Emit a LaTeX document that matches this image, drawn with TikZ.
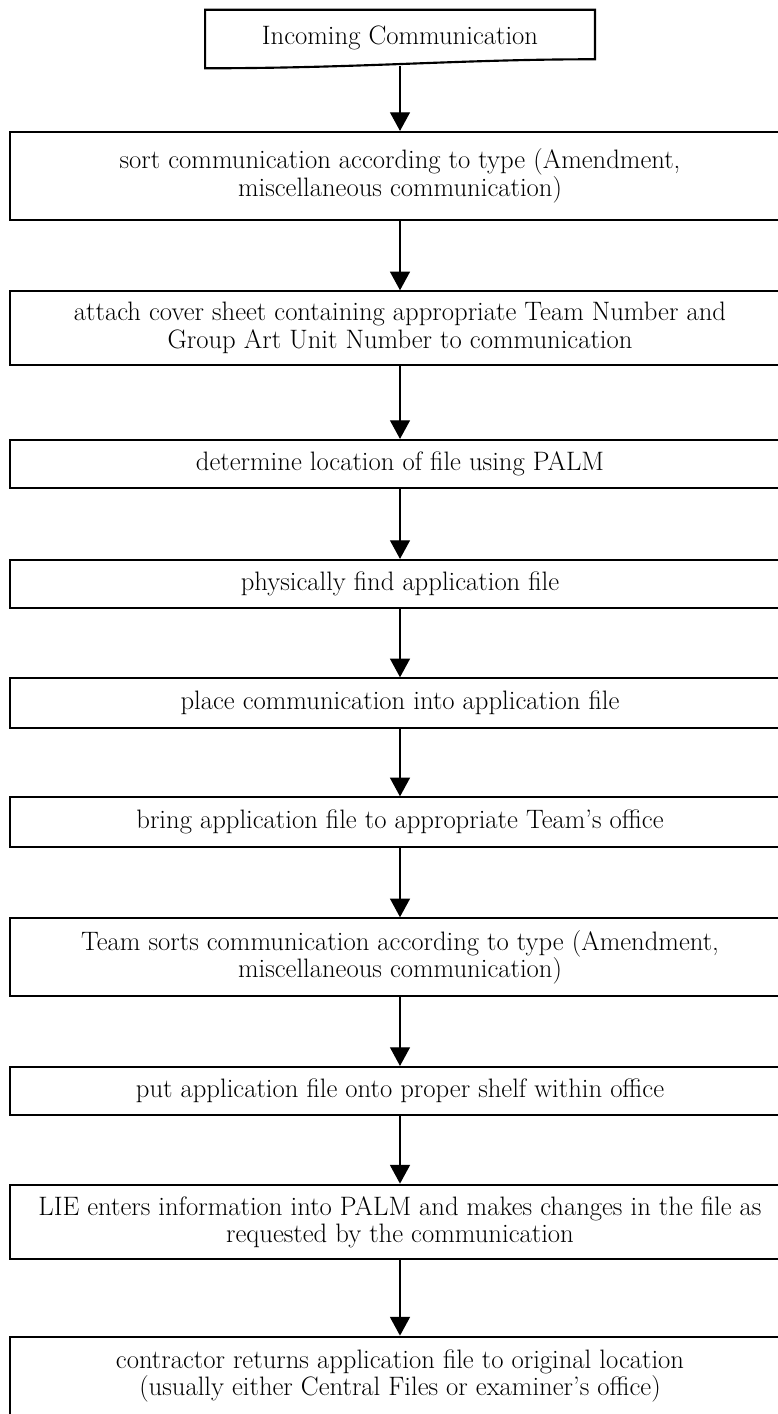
\documentclass[tikz,border=0pt]{standalone}
\usepackage{tikz}
\usetikzlibrary{arrows.meta,calc}
\tikzset{
  >={Triangle[length=14pt,width=15pt]},
  txt/.style   ={font=\fontsize{20}{20.5}\selectfont},
  box/.style   ={draw=black,line width=1.6pt,txt,align=center,inner sep=0pt,
                 minimum width=585pt},
  docbox/.style={txt,align=center,inner sep=0pt,minimum width=292pt,minimum height=42pt},
  ar/.style    ={->,line width=1pt},
}
\begin{document}
\begin{tikzpicture}[x=0.75pt,y=-0.75pt]
\clip (0,0) rectangle (778,1414);
% start: the incoming document
\node[docbox] (inc) at (400,38) {Incoming Communication};
\draw[line width=1.6pt] (inc.north west) -- (inc.north east) -- ($(inc.south east)+(0,-7)$)
   .. controls ($(inc.south)+(60,-7)$) and ($(inc.south)+(-40,2)$) .. ($(inc.south west)+(0,2)$) -- cycle;
% the steps
\node[box,minimum height=66pt] (sortc) at (400,176) {sort communication according to type (Amendment,\\ miscellaneous communication)};
\node[box,minimum height=55pt] (attach) at (400,328) {attach cover sheet containing appropriate Team Number and\\ Group Art Unit Number to communication};
\node[box,minimum height=36pt] (locate) at (400,464) {determine location of file using PALM};
\node[box,minimum height=36pt] (find) at (400,584) {physically find application file};
\node[box,minimum height=37pt] (place) at (400,703) {place communication into application file};
\node[box,minimum height=37pt] (bring) at (400,822) {bring application file to appropriate Team's office};
\node[box,minimum height=58pt] (tsort) at (400,957) {Team sorts communication according to type (Amendment,\\ miscellaneous communication)};
\node[box,minimum height=36pt] (shelf) at (400,1091) {put application file onto proper shelf within office};
\node[box,minimum height=56pt] (lie) at (400,1222) {LIE enters information into PALM and makes changes in the file as\\ requested by the communication};
\node[box,minimum height=59pt] (ret) at (400,1376) {contractor returns application file to original location\\ (usually either Central Files or examiner's office)};
% arrows
\draw[ar] (inc.south) -- (sortc.north);
\draw[ar] (sortc) -- (attach);
\draw[ar] (attach) -- (locate);
\draw[ar] (locate) -- (find);
\draw[ar] (find) -- (place);
\draw[ar] (place) -- (bring);
\draw[ar] (bring) -- (tsort);
\draw[ar] (tsort) -- (shelf);
\draw[ar] (shelf) -- (lie);
\draw[ar] (lie) -- (ret);
\end{tikzpicture}
\end{document}
